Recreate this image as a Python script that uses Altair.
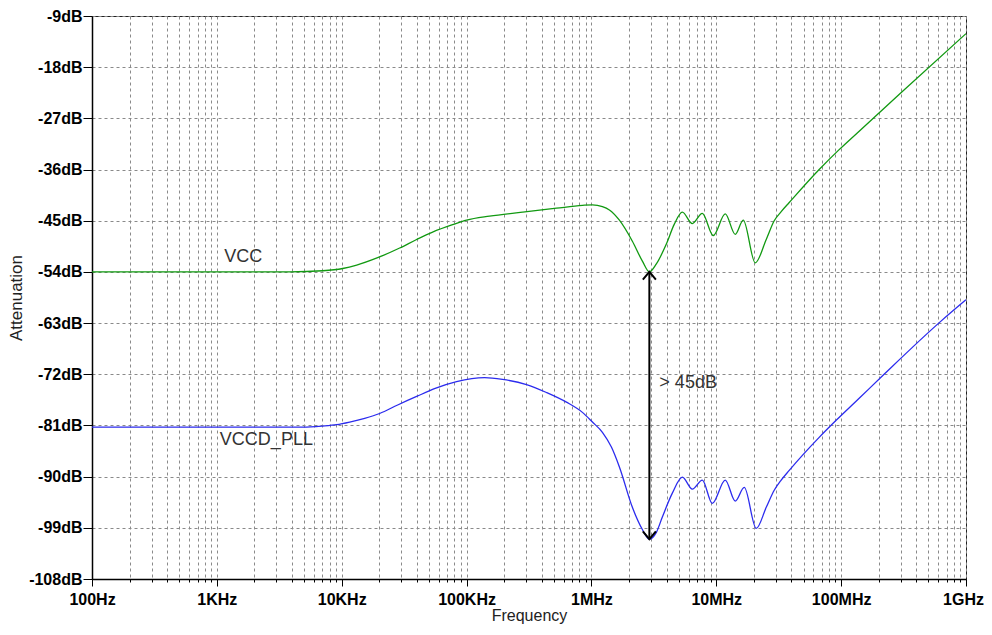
import altair as alt
import pandas as pd

# ---------------- data ----------------
vcc_freq = [100, 1000, 3837, 7047, 10190, 13183, 19409, 29107, 39811, 53456,
            77268, 100000, 152757, 280543, 524807, 847227, 1.0186e6, 1.2246e6,
            1.393e6, 1.675e6, 2.128e6, 2.559e6, 2.911e6, 3.311e6, 3.981e6,
            4.613e6, 5.346e6, 6.427e6, 7.727e6, 9.462e6, 11.8e6, 14.19e6,
            16.44e6, 20.51e6, 25.12e6, 29.1e6, 33.1e6, 38.4e6, 66.7e6, 96.4e6,
            134e6, 291e6, 1e9]
vcc_db = [-54.0, -54.0, -54.0, -53.8, -53.4, -52.8, -51.5, -49.8, -48.3, -47.0,
          -45.7, -44.9, -44.2, -43.5, -42.8, -42.3, -42.2, -42.5,
          -43.1, -44.9, -48.6, -52.1, -54.0, -52.6, -49.1,
          -45.6, -43.5, -45.5, -43.7, -47.6, -43.8, -47.4,
          -44.9, -52.4, -48.3, -45.0, -43.4, -41.8, -36.0, -32.5,
          -29.6, -22.8, -12.1]

pll_freq = [100, 1000, 4875, 7047, 9120, 11588, 15276, 20137, 28054, 39811,
            57544, 83176, 139316, 194000, 302000, 436500, 631000, 847000,
            1.0186e6, 1.2246e6, 1.4454e6, 1.675e6, 2.128e6, 2.559e6, 2.911e6,
            3.311e6, 3.698e6, 4.446e6, 5.346e6, 6.427e6, 7.727e6, 9.29e6,
            11.8e6, 14.19e6, 16.75e6, 20.89e6, 25.12e6, 29.1e6, 33.1e6, 38.4e6,
            66.7e6, 91.2e6, 136.8e6, 220.8e6, 627.6e6, 1e9]
pll_db = [-81.3, -81.3, -81.3, -81.1, -80.85, -80.4, -79.75, -78.9, -77.4, -75.9,
          -74.4, -73.3, -72.6, -72.9, -73.8, -75.2, -76.9, -78.7,
          -80.4, -82.2, -84.8, -88.3, -95.4, -99.3, -101.0,
          -99.8, -97.1, -92.9, -90.1, -92.2, -90.6, -94.7,
          -90.6, -94.3, -91.9, -99.1, -95.4, -92.4, -90.6, -88.9,
          -83.1, -80.1, -76.4, -72.0, -62.7, -58.9]

x_major = [1e2, 1e3, 1e4, 1e5, 1e6, 1e7, 1e8, 1e9]
x_labels = ["100Hz", "1KHz", "10KHz", "100KHz", "1MHz", "10MHz", "100MHz", "1GHz"]
x_grid = [m * 10 ** e for e in range(2, 9) for m in range(1, 10)] + [1e9]
y_ticks = list(range(-108, 0, 9))

arrow_freq = [2.911e6]
arrow_top = [-54.0]
arrow_bottom = [-101.0]

notes_text = ["VCC", "VCCD_PLL", "> 45dB"]
notes_freq = [1630, 1057, 3.5e6]
notes_db = [-51.4, -83.6, -73.5]
notes_align = ["center", "left", "left"]

# ---------------- build ----------------
label_expr = ""
for v, lab in zip(x_major, x_labels):
    label_expr += f"abs(datum.value - {v}) < {v * 1e-6} ? '{lab}' : "
label_expr += "''"

major_test = "abs(log(datum.value)/LN10 - round(log(datum.value)/LN10)) < 0.001"

x_scale = alt.Scale(type="log", domain=[100, 1e9], nice=False)
y_scale = alt.Scale(domain=[-108, -9], nice=False)

x_axis = alt.Axis(
    values=x_grid, labelExpr=label_expr, title="Frequency",
    grid=True, gridDash=[3, 3], gridColor="#8a8a8a", gridWidth=1,
    tickSize={"condition": {"test": major_test, "value": 7}, "value": 3},
    labelOffset={"condition": {"test": "datum.value > 5e8", "value": -3}, "value": 0},
    tickColor="#000", domainColor="#000", domainWidth=1.5,
    labelFont="Liberation Sans", labelFontWeight="bold", labelFontSize=16,
    labelColor="#000", labelPadding=5, labelOverlap=False, labelFlush=False,
    titleFont="Liberation Sans", titleFontWeight="normal", titleFontSize=16,
    titleColor="#222", titlePadding=0,
)
y_axis = alt.Axis(
    values=y_ticks, labelExpr="datum.value + 'dB'", title="Attenuation",
    grid=True, gridDash=[3, 3], gridColor="#8a8a8a", gridWidth=1,
    tickSize=9, tickColor="#000", domainColor="#000", domainWidth=1.5,
    labelFont="Liberation Sans", labelFontWeight="bold", labelFontSize=16,
    labelColor="#000", labelPadding=1,
    titleFont="Liberation Sans", titleFontWeight="normal", titleFontSize=17,
    titleColor="#222", titlePadding=3,
)

vcc_df = pd.DataFrame({"f": vcc_freq, "db": vcc_db})
pll_df = pd.DataFrame({"f": pll_freq, "db": pll_db})
arrow_df = pd.DataFrame({"f": arrow_freq, "top": arrow_top, "bottom": arrow_bottom})
notes_df = pd.DataFrame({"f": notes_freq, "db": notes_db, "t": notes_text, "a": notes_align})

base_x = alt.X("f:Q", scale=x_scale, axis=x_axis)
base_y = alt.Y("db:Q", scale=y_scale, axis=y_axis)

vcc = alt.Chart(vcc_df).mark_line(color="#119911", strokeWidth=1.3, interpolate="monotone").encode(
    x=base_x, y=base_y)
pll = alt.Chart(pll_df).mark_line(color="#2b2bee", strokeWidth=1.3, interpolate="monotone").encode(
    x=alt.X("f:Q", scale=x_scale), y=alt.Y("db:Q", scale=y_scale))

rule = alt.Chart(arrow_df).mark_rule(color="#000", strokeWidth=2).encode(
    x=alt.X("f:Q", scale=x_scale), y=alt.Y("top:Q", scale=y_scale), y2="bottom:Q")
head_up = alt.Chart(arrow_df).mark_point(
    shape="M-1,1.2L0,0L1,1.2", filled=False, color="#000", strokeWidth=2, size=170, opacity=1
).encode(x=alt.X("f:Q", scale=x_scale), y=alt.Y("top:Q", scale=y_scale))
head_down = alt.Chart(arrow_df).mark_point(
    shape="M-1,-1.2L0,0L1,-1.2", filled=False, color="#000", strokeWidth=2, size=170, opacity=1
).encode(x=alt.X("f:Q", scale=x_scale), y=alt.Y("bottom:Q", scale=y_scale))

notes_c = alt.Chart(notes_df[notes_df.a == "center"]).mark_text(
    font="Liberation Sans", fontSize=18, color="#333", align="center", baseline="middle"
).encode(x=alt.X("f:Q", scale=x_scale), y=alt.Y("db:Q", scale=y_scale), text="t:N")
notes_l = alt.Chart(notes_df[notes_df.a == "left"]).mark_text(
    font="Liberation Sans", fontSize=18, color="#333", align="left", baseline="middle"
).encode(x=alt.X("f:Q", scale=x_scale), y=alt.Y("db:Q", scale=y_scale), text="t:N")

chart = alt.layer(vcc, pll, rule, head_up, head_down, notes_c, notes_l).properties(
    width=874, height=563,
    autosize=alt.AutoSizeParams(type="none"),
    padding={"left": 84, "top": 8, "right": 18, "bottom": 48},
    background="white",
).configure_view(stroke="#222", strokeWidth=1)

chart.save("out.html", embed_options={"renderer": "svg", "actions": False})
